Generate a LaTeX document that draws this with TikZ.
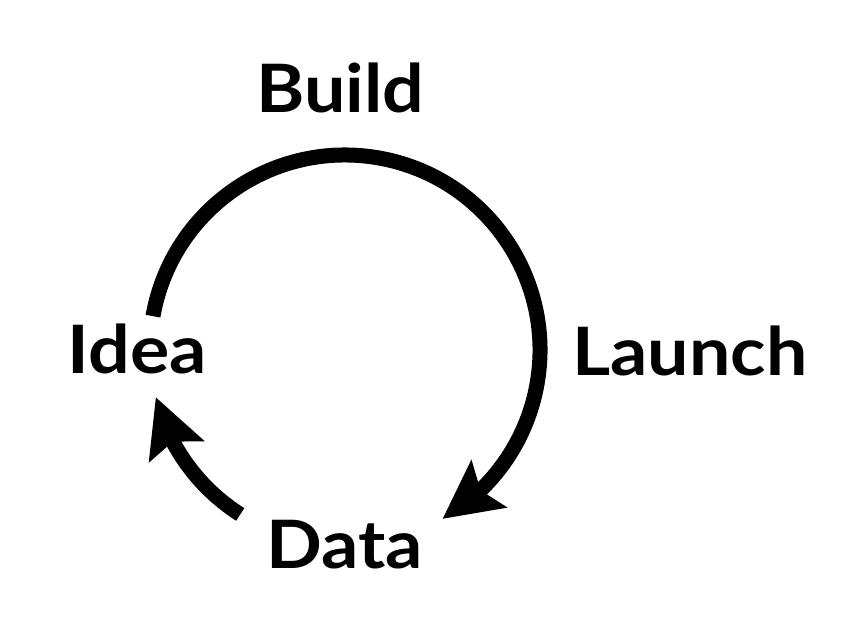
\documentclass[tikz,border=0pt]{standalone}
\usepackage{fontspec}
\setmainfont{Lato}[FakeStretch=1.1]
\usetikzlibrary{arrows.meta,bending}

\begin{document}
\begin{tikzpicture}[
        lbl/.style={font=\fontsize{38}{40}\selectfont\bfseries, anchor=base, inner sep=0pt},
        ciclo/.style={line width=0.3cm, -{Stealth[length=11.5mm,width=11.5mm,inset=2mm,flex]}}]
        \useasboundingbox (0,0) rectangle (17.24,12.72);

        \coordinate (c) at (6.9,5.72);
        \def\r{3.9}

        \node[lbl] (build) at (6.81,10.46) {Build};
        \node[lbl] (launch) at (13.8,5.22) {Launch};
        \node[lbl] (idea) at (2.74,5.26) {Idea};
        \node[lbl] (data) at (6.9,1.36) {Data};

        % Flechas
        \draw[ciclo] (c) ++(170:\r) arc[start angle=170, end angle=-60, radius=\r];
        \draw[ciclo] (c) ++(237.5:\r) arc[start angle=237.5, end angle=194, radius=\r];
\end{tikzpicture}
\end{document}
